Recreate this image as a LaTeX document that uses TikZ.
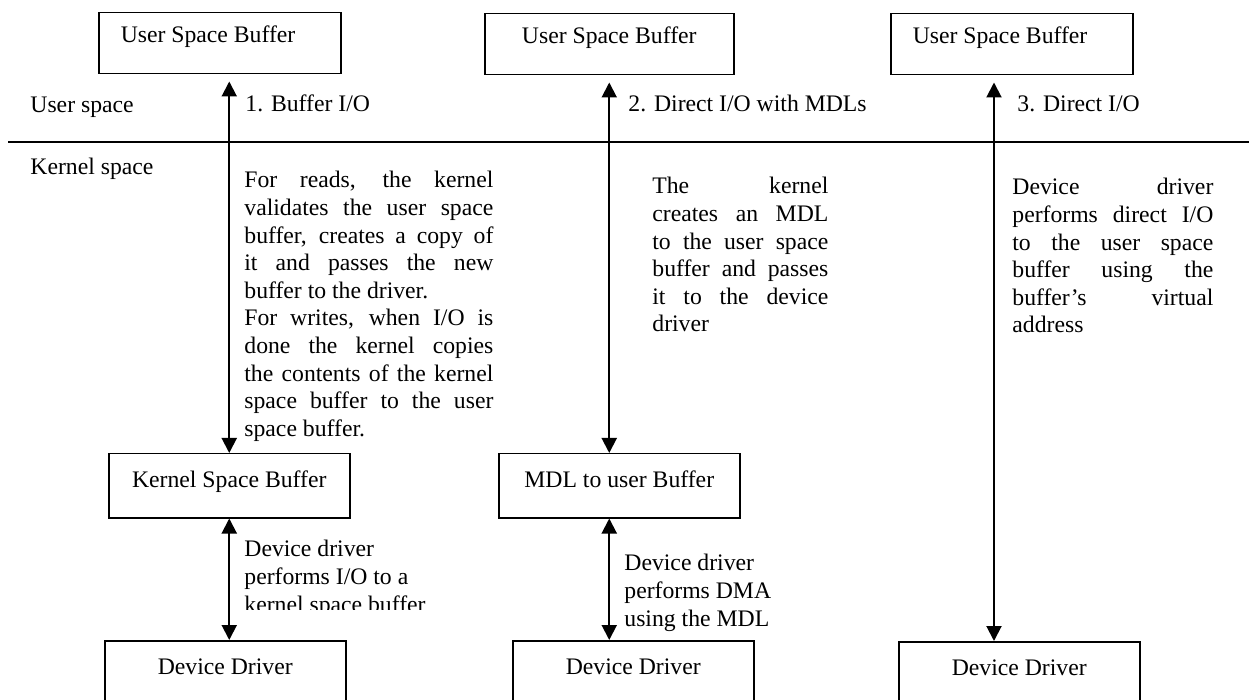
\documentclass[tikz,border=0pt]{standalone}
\usepackage{fontspec}
\setmainfont{Liberation Serif}
\usetikzlibrary{arrows.meta}
\tolerance=10000
\hbadness=10000
\hyphenpenalty=10000

\tikzset{
  box/.style={draw, line width=0.75pt, inner xsep=0pt, inner ysep=0pt,
    minimum width=120.5pt, text height=17pt, text depth=15pt, anchor=north west},
  topbox/.style={box, text height=15pt, text depth=15.5pt},
  leftbox/.style={text width=99pt, align=flush left, inner xsep=11pt},
  io/.style={{Triangle[length=7.5pt,width=7.5pt]}-{Triangle[length=7.5pt,width=7.5pt]}, line width=1pt},
  note/.style={inner sep=0pt, anchor=north west, align=justify},
  lbl/.style={inner sep=0pt, anchor=base west}
}

\begin{document}
\begin{tikzpicture}[x=0.5pt, y=-0.5pt, font=\fontsize{11.85}{13.8}\selectfont]
  \useasboundingbox (0,0) rectangle (1249,700);
  \clip (0,0) rectangle (1249,700);

  % user / kernel split
  \draw[line width=1pt] (8,142) -- (1249,142);
  \node[lbl] (userlbl) at (30,113) {User space};
  \node[lbl] (kernellbl) at (30,175) {Kernel space};

  % buffers
  \node[topbox, leftbox] (us1) at (98,12) {User Space Buffer};
  \node[topbox, minimum width=124.5pt] (us2) at (484,13) {User Space Buffer};
  \node[topbox, leftbox] (us3) at (890,13) {User Space Buffer};
  \node[box] (ksb) at (108,453) {Kernel Space Buffer};
  \node[box] (mdl) at (498,453) {MDL to user Buffer};
  \node[box] (dd1) at (104,640) {Device Driver};
  \node[box] (dd2) at (512,640) {Device Driver};
  \node[box] (dd3) at (898,641) {Device Driver};
  \coordinate (lane3) at (994,0);

  % transfers
  \draw[io, shorten <=3.5pt] (us1.south -| ksb.north) -- (ksb.north);
  \draw[io] (ksb.south) -- (ksb.south |- dd1.north);
  \draw[io, shorten <=3.5pt] (us2.south) -- (us2.south |- mdl.north);
  \draw[io] (mdl.south -| us2.south) -- (dd2.north -| us2.south);
  \draw[io, shorten <=3.5pt] (us3.south -| lane3) -- (dd3.north -| lane3);

  \node[lbl] (io1) at (245,112) {1. Buffer I/O};
  \node[lbl] (io2) at (628,112) {2. Direct I/O with MDLs};
  \node[lbl] (io3) at (1017,112) {3. Direct I/O};

  \node[note, text width=124.5pt] (txt1) at (244,171) {For reads, the kernel\linebreak
    validates the user space\linebreak buffer, creates a copy of\linebreak
    it and passes the new\linebreak buffer to the driver.\\
    For writes, when I/O is\linebreak done the kernel copies\linebreak
    the contents of the kernel\linebreak space buffer to the user\linebreak
    space buffer.};
  \node[note, text width=88pt] (txt2) at (652,177) {The kernel\linebreak
    creates an MDL\linebreak to the user space\linebreak
    buffer and passes\linebreak it to the device\linebreak driver};
  \node[note, text width=100.5pt] (txt3) at (1012,178) {Device driver\linebreak
    performs direct I/O\linebreak to the user space\linebreak
    buffer using the\linebreak buffer’s virtual\linebreak address};

  \begin{scope}
    \clip (240,530) rectangle (520,609);
    \node[note, align=left] (dtxt1) at (244,540) {Device driver\\performs I/O to a\\kernel space buffer};
  \end{scope}
  \node[note, align=left] (dtxt2) at (624,554) {Device driver\\performs DMA\\using the MDL};
\end{tikzpicture}
\end{document}
